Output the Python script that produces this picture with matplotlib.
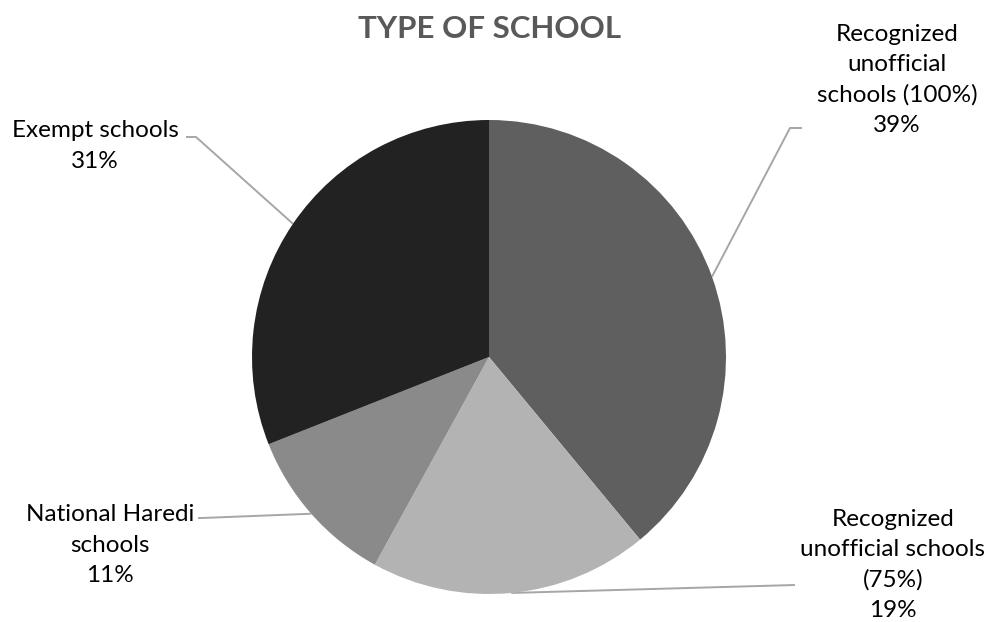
import matplotlib
matplotlib.use("Agg")
import matplotlib.pyplot as plt
import numpy as np

categories = ["Recognized\nunofficial\nschools (100%)",
              "Recognized\nunofficial schools\n(75%)",
              "National Haredi\nschools",
              "Exempt schools"]
values = [39, 19, 11, 31]
colors = ["#5f5f5f", "#b3b3b3", "#8a8a8a", "#222222"]
title = "TYPE OF SCHOOL"

W, H = 985, 622
fig = plt.figure(figsize=(W / 100, H / 100), dpi=100)
ax = fig.add_axes([0, 0, 1, 1])

cx, cy, R = 489, H - 357, 237
wedges, _ = ax.pie(values, colors=colors, startangle=90, counterclock=False,
                   center=(cx, cy), radius=R, frame=True,
                   wedgeprops=dict(linewidth=0))
ax.set_xlim(0, W)
ax.set_ylim(0, H)
ax.set_aspect("equal")
ax.axis("off")

font = "Lato"
layout = [
    dict(tx=897, ty=80, elbow=(790, 128), end=(802, 128)),
    dict(tx=893, ty=565, elbow=(795, 585), end=(795, 585)),
    dict(tx=110, ty=545, elbow=(202, 518), end=(198, 518)),
    dict(tx=95, ty=146, elbow=(196, 137), end=(186, 137)),
]
for w, cat, v, lay in zip(wedges, categories, values, layout):
    ang = np.deg2rad((w.theta1 + w.theta2) / 2)
    px, py = cx + R * np.cos(ang), cy + R * np.sin(ang)
    ex, ey = lay["elbow"]
    fx, fy = lay["end"]
    ax.plot([px, ex, fx], [py, H - ey, H - fy], color="#a6a6a6", lw=1.4,
            solid_capstyle="butt", zorder=0.5)
    ax.text(lay["tx"], H - lay["ty"], f"{cat}\n{v}%", ha="center", va="center",
            fontsize=17.5, family=font, color="#000000", linespacing=1.55,
            clip_on=True)

ax.text(490, H - 29, title, ha="center", va="center", fontsize=22.5,
        fontweight="bold", family=font, color="#595959")

fig.savefig("out.png", dpi=100)
